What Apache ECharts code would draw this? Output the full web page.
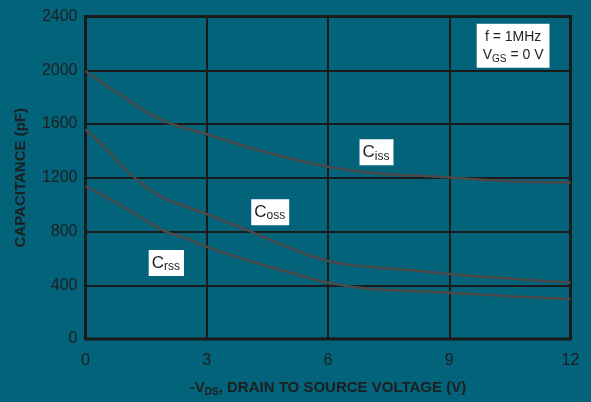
<!DOCTYPE html>
<html><head><meta charset="utf-8">
<script src="https://cdn.jsdelivr.net/npm/echarts@6/dist/echarts.min.js"></script>
<style>html,body{margin:0;padding:0;background:#02637b}#c{width:591px;height:402px}</style>
</head><body><div id="c"></div>
<script>
const vds = [0,0.5,1,1.5,2,2.5,3,4,5,6,7,8,9,10,11,12];
const ciss = [1995,1888,1790,1690,1616,1566,1524,1430,1350,1282,1239,1219,1202,1182,1170,1162];
const coss = [1559,1418,1257,1132,1039,984,929,810,686,580,538,513,483,459,439,421];
const crss = [1138,1058,972,880,798,749,686,587,500,419,374,359,344,327,310,297];
const xTicks = [0,3,6,9,12];
const yTicks = [0,400,800,1200,1600,2000,2400];

const pair = (ys) => vds.map((v,i)=>[v,ys[i]]);
const lineColor = '#4a4a4a';
const txt = '#1e1e1e';
const font = 'Liberation Sans, Arial, sans-serif';

function labelPoint(coord, main, sub){
  return {
    coord: coord, symbol: 'rect', symbolSize: 0,
    label: {
      show: true, position: 'inside',
      formatter: '{m|' + main + '}{s|' + sub + '}',
      backgroundColor: '#ffffff', padding: [4,4,3,3],
      rich: {
        m: {fontSize: 17, color: '#222', fontFamily: font},
        s: {fontSize: 12, color: '#222', fontFamily: font, verticalAlign: 'bottom', padding:[7,0,0,0]}
      }
    }
  };
}

const chart = echarts.init(document.getElementById('c'));
chart.setOption({
  backgroundColor: '#02637b',
  animation: false,
  grid: {left: 85.5, right: 20.5, top: 16.5, bottom: 63, show: true, borderColor: '#1a1a1a', borderWidth: 3, backgroundColor: 'transparent'},
  xAxis: {
    type: 'value', min: 0, max: 12, interval: 3,
    axisLine: {show: false}, axisTick: {show: false},
    splitLine: {show: true, lineStyle: {color: '#1a1a1a', width: 2}},
    axisLabel: {color: txt, fontSize: 16, fontFamily: font, margin: 14,
      formatter: v => xTicks.includes(v) ? String(v) : ''},
    name: '{n|-V}{s|DS}{n|, DRAIN TO SOURCE VOLTAGE (V)}',
    nameLocation: 'middle', nameGap: 40,
    nameTextStyle: {
      rich: {
        n: {fontSize: 15, fontWeight: 'bold', color: txt, fontFamily: font},
        s: {fontSize: 10, fontWeight: 'bold', color: txt, fontFamily: font, verticalAlign: 'bottom', padding:[8,0,0,0]}
      }
    }
  },
  yAxis: {
    type: 'value', min: 0, max: 2400, interval: 400,
    axisLine: {show: false}, axisTick: {show: false},
    splitLine: {show: true, lineStyle: {color: '#1a1a1a', width: 2}},
    axisLabel: {color: txt, fontSize: 16, fontFamily: font, margin: 8,
      formatter: v => yTicks.includes(v) ? String(v) : ''},
    name: 'CAPACITANCE (pF)', nameLocation: 'middle', nameGap: 57,
    nameTextStyle: {fontSize: 15, fontWeight: 'bold', color: txt, fontFamily: font}
  },
  series: [
    {type: 'line', data: pair(ciss), smooth: true, symbol: 'none', lineStyle: {color: lineColor, width: 2.5},
     markPoint: {data: [labelPoint([7.2,1390],'C','iss'),
       {coord: [10.58, 2182], symbol: 'rect', symbolSize: 0,
        label: {show: true, position: 'inside', backgroundColor: '#fff', padding: [4,6,4,6], lineHeight: 18,
          formatter: '{m|f = 1MHz}\n{m|V}{s|GS}{m| = 0 V}',
          rich: {m: {fontSize: 14, color: '#222', fontFamily: font, lineHeight: 18},
                 s: {fontSize: 10, color: '#222', fontFamily: font, verticalAlign: 'bottom', lineHeight: 18, padding:[6,0,0,0]}}}}
     ]}},
    {type: 'line', data: pair(coss), smooth: true, symbol: 'none', lineStyle: {color: lineColor, width: 2.5},
     markPoint: {data: [labelPoint([4.57,944],'C','oss')]}},
    {type: 'line', data: pair(crss), smooth: true, symbol: 'none', lineStyle: {color: lineColor, width: 2.5},
     markPoint: {data: [labelPoint([2.0,565],'C','rss')]}}
  ]
});
</script></body></html>
